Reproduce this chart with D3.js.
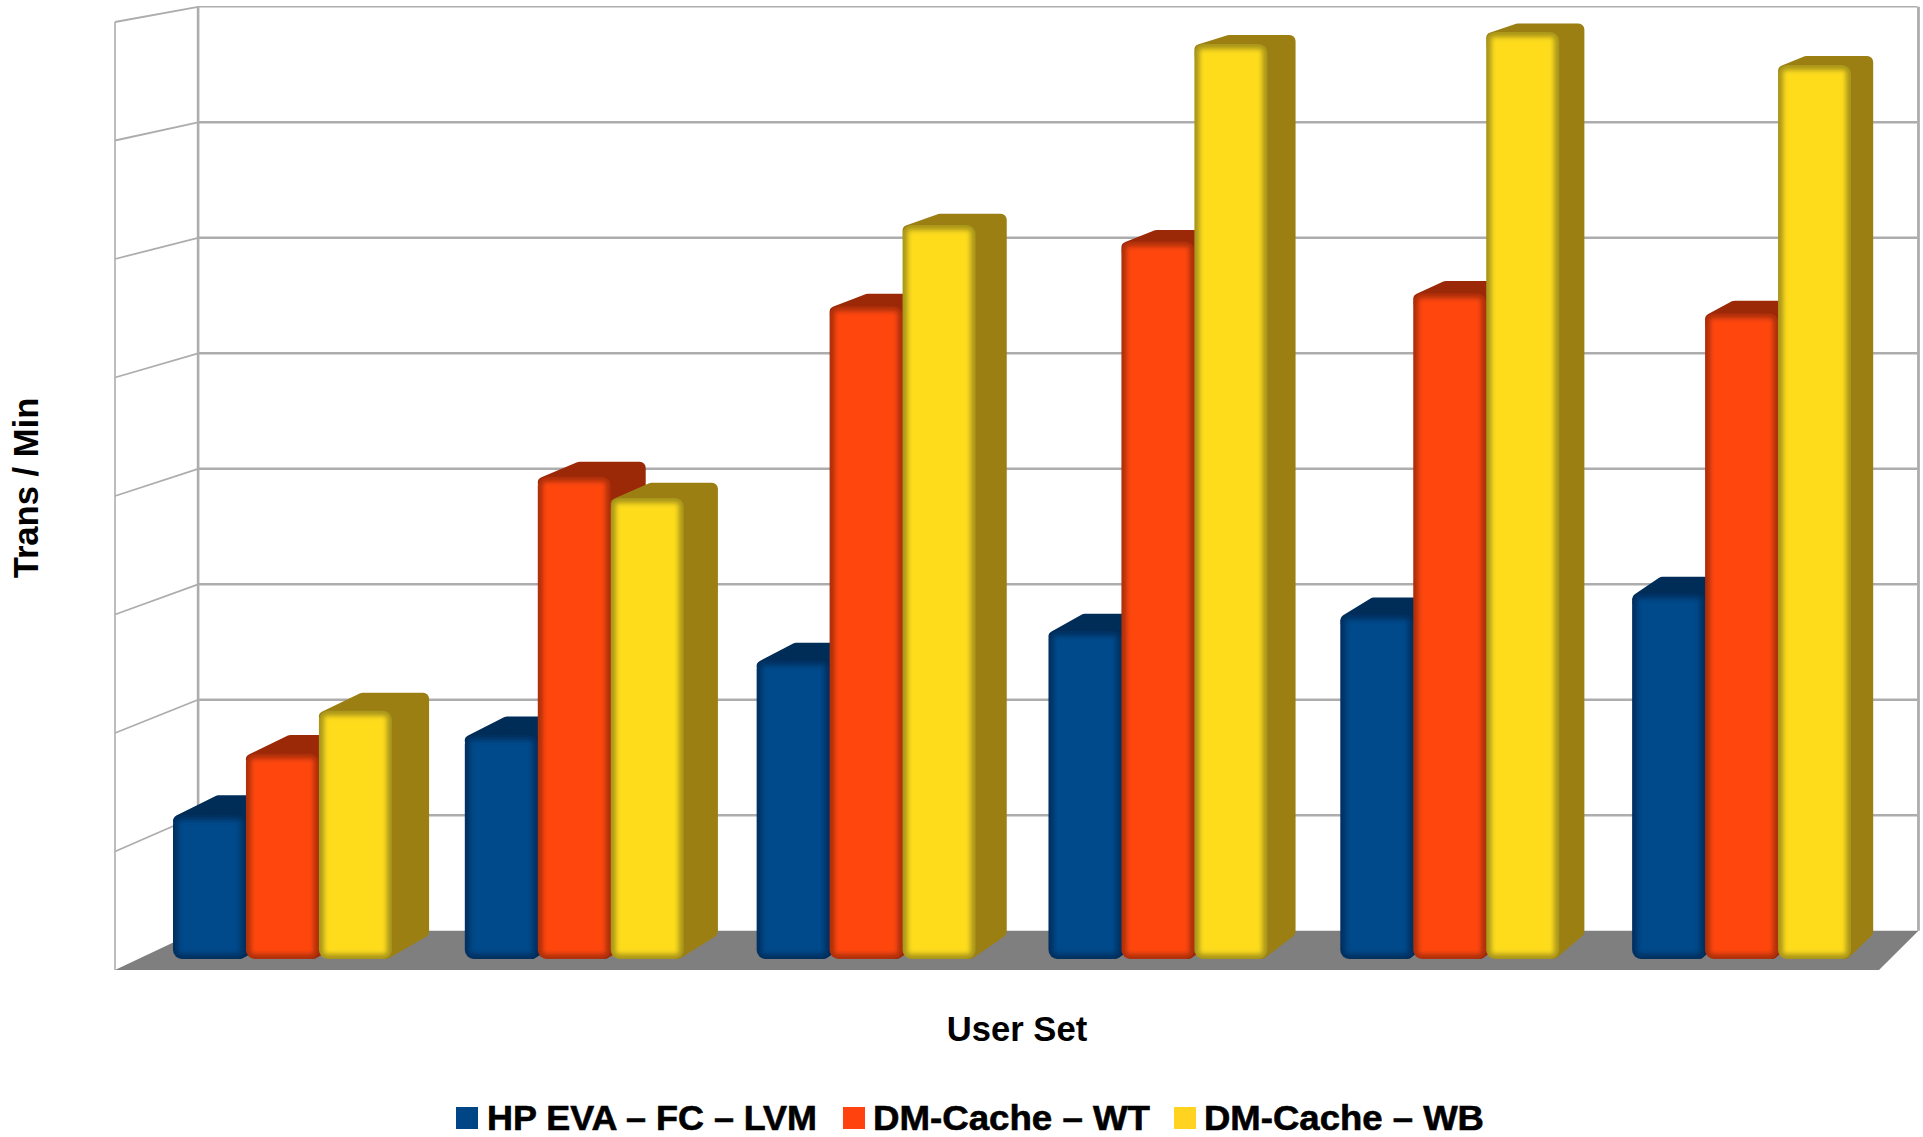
<!DOCTYPE html>
<html>
<head>
<meta charset="utf-8">
<script src="https://d3js.org/d3.v7.min.js"></script>
<style>
html,body{margin:0;padding:0;background:#fff;overflow:hidden}
text{font-family:"Liberation Sans",Arial,sans-serif;font-weight:bold;fill:#000}
</style>
</head>
<body>
<svg id="chart" width="1923" height="1137"></svg>
<script>
// Transactions per minute for each user set, one list per storage setup.
const userSets = ["1", "2", "3", "4", "5", "6"];
const seriesNames = ["HP EVA – FC – LVM", "DM-Cache – WT", "DM-Cache – WB"];
const hpEva = [1225, 1905, 2540, 2790, 2930, 3110];
const dmCacheWt = [1745, 4100, 5550, 6100, 5660, 5490];
const dmCacheWb = [2110, 3920, 6240, 7780, 7880, 7600];
const gridTicks = [0, 1000, 2000, 3000, 4000, 5000, 6000, 7000, 8000];

const seriesValues = [hpEva, dmCacheWt, dmCacheWb];
const faceColors = ["#00488a", "#ff470e", "#fedc1f"];
const legendColors = ["#004586", "#ff420e", "#ffd320"];
const rimColors = ["#00305f", "#ab2f0c", "#a8951c"];
const sideColors = ["#002c58", "#9b2807", "#9b7f13"];

const svg = d3.select("#chart");
const defs = svg.append("defs");
defs.append("filter").attr("id", "soft")
  .attr("x", "-20%").attr("y", "-20%").attr("width", "140%").attr("height", "140%")
  .append("feGaussianBlur").attr("stdDeviation", 2.4);

// Depth lines of the box run towards one vanishing point up and to the right.
const vanish = { x: 3400, y: -580 };
const boxDepth = 0.0253;
const project = (x, y, d) => [x + d * (vanish.x - x), y + d * (vanish.y - y)];

// Scales on the front plane of the box and on the plane of the bar fronts.
const wallX = d3.scaleLinear().domain([0, 1]).range([115, 1879]);
const wallY = d3.scaleLinear().domain([0, 8000]).range([970, 22]);
const barY = d3.scaleLinear().domain([0, 8000]).range([959, 18]);
const groupX = d3.scaleBand().domain(userSets).range([173, 1851]).paddingInner(0.25);
const barX = d3.scaleBand().domain(seriesNames).range([0, groupX.bandwidth()]);

const poly = pts => "M" + pts.map(p => p.join(",")).join("L") + "Z";
const gridColor = "#adadad";

// Back wall grid, side wall grid and the grey floor.
const grid = svg.append("g").attr("fill", "none").attr("stroke", gridColor);
gridTicks.forEach(t => {
  const a = project(wallX(0), wallY(t), 0);
  const b = project(wallX(0), wallY(t), boxDepth);
  const c = project(wallX(1), wallY(t), boxDepth);
  const top = t === gridTicks[gridTicks.length - 1];
  if (t > 0) {
    grid.append("line").attr("x1", b[0]).attr("y1", b[1]).attr("x2", c[0]).attr("y2", c[1])
      .attr("stroke-width", top ? 1.6 : 2.4);
    grid.append("line").attr("x1", a[0]).attr("y1", a[1]).attr("x2", b[0]).attr("y2", b[1])
      .attr("stroke-width", 1.8);
  }
});
const backTop = project(wallX(0), wallY(8000), boxDepth);
const backBottom = project(wallX(0), wallY(0), boxDepth);
const backRightTop = project(wallX(1), wallY(8000), boxDepth);
const backRightBottom = project(wallX(1), wallY(0), boxDepth);
grid.append("line").attr("x1", backTop[0]).attr("y1", backTop[1]).attr("x2", backBottom[0]).attr("y2", backBottom[1])
  .attr("stroke-width", 2.6);
grid.append("line").attr("x1", backRightTop[0] + 1).attr("y1", backRightTop[1]).attr("x2", backRightBottom[0] + 1).attr("y2", backRightBottom[1])
  .attr("stroke-width", 2.8);
grid.append("line").attr("x1", wallX(0)).attr("y1", wallY(8000)).attr("x2", wallX(0)).attr("y2", wallY(0))
  .attr("stroke-width", 1.6);

svg.append("path")
  .attr("d", poly([
    project(wallX(0), wallY(0), 0),
    backBottom,
    [backRightBottom[0] + 1, backRightBottom[1]],
    project(wallX(1), wallY(0), 0)
  ]))
  .attr("fill", "#7f7f7f");

// Bars, drawn left to right so each front covers its neighbour's side.
const barVanishX = 4000;
const sideDepthX = 0.0103;
const sideDepthY = 0.0140;
const backOf = (x, y) => [x + sideDepthX * (barVanishX - x), y + sideDepthY * (vanish.y - y)];

userSets.forEach((u, gi) => {
  seriesNames.forEach((name, si) => {
    const v = seriesValues[si][gi];
    const x0 = groupX(u) + barX(name);
    const x1 = x0 + barX.bandwidth();
    const yt = barY(v);
    const yb = barY(0);
    const g = svg.append("g");

    // Top and side faces, with softened corners from a round stroke.
    const inset = 6;
    g.append("path")
      .attr("d", poly([
        [x0 + inset, yt + inset],
        backOf(x0 + inset, yt + inset),
        backOf(x1 - inset, yt + inset),
        backOf(x1 - inset, yb - inset),
        [x1 - inset, yb - inset]
      ]))
      .attr("fill", sideColors[si])
      .attr("stroke", sideColors[si])
      .attr("stroke-width", inset * 2)
      .attr("stroke-linejoin", "round");

    // Front face: dark rim fading into the flat colour.
    g.append("rect")
      .attr("x", x0).attr("y", yt)
      .attr("width", x1 - x0).attr("height", yb - yt)
      .attr("rx", 9).attr("ry", 9)
      .attr("fill", rimColors[si]);
    g.append("rect")
      .attr("x", x0 + 5).attr("y", yt + 5)
      .attr("width", x1 - x0 - 10).attr("height", yb - yt - 10)
      .attr("rx", 2).attr("ry", 2)
      .attr("fill", faceColors[si])
      .attr("filter", "url(#soft)");
  });
});

// Axis titles.
svg.append("text")
  .attr("transform", "translate(38,488) rotate(-90)")
  .attr("text-anchor", "middle")
  .attr("font-size", 34.6)
  .text("Trans / Min");
svg.append("text")
  .attr("x", 1017).attr("y", 1041)
  .attr("text-anchor", "middle")
  .attr("font-size", 34.6)
  .text("User Set");

// Legend along the bottom edge.
const legendItems = [
  { swatch: 456, text: 487, width: 330 },
  { swatch: 843, text: 873, width: 277 },
  { swatch: 1174, text: 1204, width: 280 }
];
const legend = svg.append("g");
seriesNames.forEach((name, i) => {
  const item = legendItems[i];
  legend.append("rect")
    .attr("x", item.swatch).attr("y", 1107)
    .attr("width", 22).attr("height", 22)
    .attr("fill", legendColors[i]);
  legend.append("text")
    .attr("x", item.text).attr("y", 1129.5)
    .attr("font-size", 35)
    .attr("stroke", "#000")
    .attr("stroke-width", 0.6)
    .attr("textLength", item.width)
    .attr("lengthAdjust", "spacingAndGlyphs")
    .text(name);
});
</script>
</body>
</html>
